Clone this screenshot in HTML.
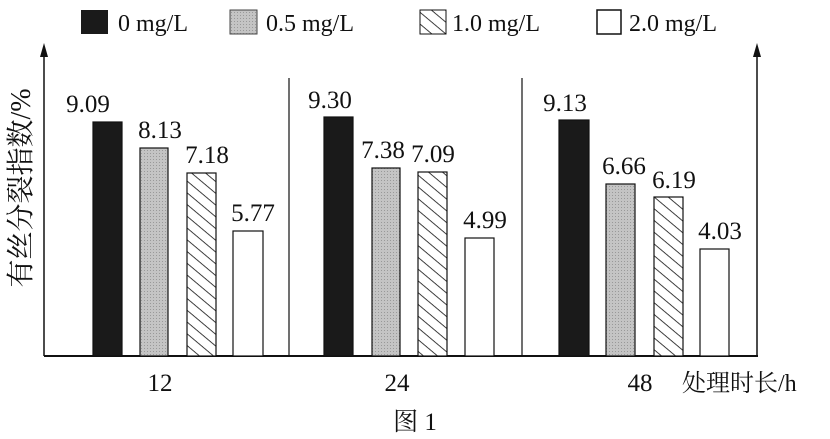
<!DOCTYPE html><html><head><meta charset="utf-8"><style>body{margin:0;background:#fff}svg{display:block}text{font-family:"Liberation Serif","Noto Serif CJK SC",serif;fill:#111}</style></head><body>
<svg width="830" height="439" viewBox="0 0 830 439">
<defs><pattern id="h" width="9" height="9" patternUnits="userSpaceOnUse" patternTransform="rotate(40)"><rect width="9" height="9" fill="#fff"/><line x1="0" y1="0" x2="9" y2="0" stroke="#111" stroke-width="1.6"/></pattern>
<pattern id="g" width="3" height="3" patternUnits="userSpaceOnUse"><rect width="3" height="3" fill="#c4c4c4"/><rect width="1" height="1" fill="#999"/></pattern></defs>
<g font-size="24">
<rect x="81" y="10" width="27" height="24" fill="#1a1a1a"/><text x="118" y="31">0 mg/L</text>
<rect x="230" y="10" width="27" height="24" fill="url(#g)" stroke="#444"/><text x="266" y="31">0.5 mg/L</text>
<rect x="420" y="10" width="26" height="24" fill="url(#h)" stroke="#111"/><text x="452" y="31">1.0 mg/L</text>
<rect x="597" y="10" width="24" height="24" fill="#fff" stroke="#111" stroke-width="1.5"/><text x="629" y="31">2.0 mg/L</text>
</g>
<line x1="44" y1="356" x2="758" y2="356" stroke="#111" stroke-width="2"/>
<line x1="44" y1="356" x2="44" y2="52" stroke="#111" stroke-width="1.5"/><polygon points="44,43 40,57 48,57" fill="#111"/>
<line x1="757" y1="356" x2="757" y2="52" stroke="#111" stroke-width="1.5"/><polygon points="757,43 753,57 761,57" fill="#111"/>
<line x1="289" y1="78" x2="289" y2="356" stroke="#111" stroke-width="1.2"/>
<line x1="522" y1="78" x2="522" y2="356" stroke="#111" stroke-width="1.2"/>
<g stroke="#111" stroke-width="1.2">
<rect x="93" y="122" width="29" height="234" fill="#1a1a1a"/>
<rect x="140" y="148" width="28" height="208" fill="url(#g)"/>
<rect x="187" y="173" width="29" height="183" fill="url(#h)"/>
<rect x="233" y="231" width="30" height="125" fill="#fff"/>
<rect x="324" y="117" width="29" height="239" fill="#1a1a1a"/>
<rect x="372" y="168" width="28" height="188" fill="url(#g)"/>
<rect x="418" y="172" width="29" height="184" fill="url(#h)"/>
<rect x="465" y="238" width="29" height="118" fill="#fff"/>
<rect x="559" y="120" width="30" height="236" fill="#1a1a1a"/>
<rect x="606" y="184" width="29" height="172" fill="url(#g)"/>
<rect x="654" y="197" width="29" height="159" fill="url(#h)"/>
<rect x="700" y="249" width="29" height="107" fill="#fff"/>
</g>
<g font-size="25" text-anchor="middle">
<text x="88" y="112">9.09</text><text x="160" y="138">8.13</text><text x="207" y="163">7.18</text><text x="253" y="221">5.77</text>
<text x="330" y="108">9.30</text><text x="383" y="158">7.38</text><text x="433" y="162">7.09</text><text x="485" y="228">4.99</text>
<text x="565" y="111">9.13</text><text x="624" y="174">6.66</text><text x="674" y="188">6.19</text><text x="720" y="239">4.03</text>
<text x="160" y="391">12</text><text x="397" y="391">24</text><text x="640" y="391">48</text>
</g>
<text x="682" y="391" font-size="24">处理时长/h</text>
<text x="415" y="430" font-size="25" text-anchor="middle">图 1</text>
<text transform="translate(30,188) rotate(-90)" font-size="28" text-anchor="middle">有丝分裂指数/%</text>
</svg></body></html>
